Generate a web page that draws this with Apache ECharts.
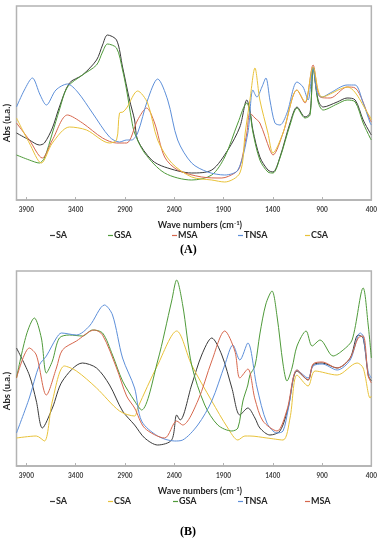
<!DOCTYPE html>
<html><head><meta charset="utf-8">
<script src="https://cdn.jsdelivr.net/npm/echarts@6/dist/echarts.min.js"></script>
<style>html,body{margin:0;padding:0;background:#fff}#c{width:380px;height:550px}</style>
</head><body><div id="c"></div>
<script>
// Wave-number tick settings
const xMin = 400, xMax = 4000, xStep = 500;
const seriesNamesA = ['SA','GSA','MSA','TNSA','CSA'];
const seriesNamesB = ['SA','CSA','GSA','TNSA','MSA'];
const colors = {SA:'#3a3a3a', GSA:'#4f9a3a', MSA:'#d6674d', TNSA:'#5d8fd9', CSA:'#e8c23a'};

// Panel A: [wavenumber, absorbance (a.u.)]
const A_TNSA = [[4000,93],[3920,110],[3839,122],[3760,105],[3697,95],[3600,110],[3483,116],[3380,108],[3229,87],[3056,63],[2955,58],[2883,60],[2832,60],[2771,67],[2670,100],[2568,121],[2466,100],[2365,60],[2223,37],[2060,28],[1887,25],[1754,30],[1653,67],[1602,110],[1561,103],[1510,113],[1470,122],[1429,100],[1378,77],[1327,75],[1256,87],[1154,118],[1093,113],[1042,100],[991,133],[950,107],[899,103],[818,107],[646,115],[564,115],[483,97],[412,77],[400,75]];
const A_SA = [[4000,67],[3870,60],[3768,55],[3717,57],[3636,72],[3565,93],[3463,117],[3331,125],[3188,140],[3127,155],[3077,165],[2985,160],[2924,133],[2853,100],[2802,80],[2771,60],[2629,40],[2497,33],[2223,27],[2019,30],[1856,50],[1734,73],[1663,100],[1632,90],[1602,70],[1531,43],[1449,30],[1398,28],[1327,43],[1225,77],[1154,93],[1073,83],[1022,87],[991,133],[940,100],[889,93],[747,98],[646,102],[564,100],[483,80],[412,67],[400,65]];
const A_GSA = [[4000,45],[3870,40],[3768,37],[3717,42],[3636,67],[3565,90],[3483,113],[3331,125],[3188,135],[3127,148],[3077,156],[2985,152],[2924,130],[2883,110],[2832,80],[2802,67],[2700,47],[2497,27],[2223,20],[2019,25],[1887,43],[1754,77],[1663,97],[1632,88],[1602,68],[1531,40],[1449,28],[1398,27],[1327,42],[1225,75],[1154,92],[1073,82],[1022,85],[991,132],[940,98],[889,90],[747,96],[646,100],[564,98],[483,77],[412,62],[400,60]];
const A_MSA = [[4000,77],[3870,60],[3738,42],[3636,60],[3483,85],[3331,77],[3127,62],[2985,57],[2883,57],[2771,80],[2680,92],[2599,77],[2497,43],[2365,30],[2121,23],[1917,22],[1785,27],[1734,33],[1663,67],[1632,87],[1581,82],[1531,77],[1429,50],[1398,45],[1296,67],[1154,110],[1073,97],[991,135],[920,103],[818,102],[646,113],[564,112],[412,80],[400,78]];
const A_CSA = [[4000,82],[3870,57],[3748,37],[3636,57],[3463,73],[3290,70],[3056,57],[2985,60],[2955,87],[2920,88],[2883,92],[2771,109],[2670,97],[2568,60],[2426,37],[2223,23],[2019,20],[1887,18],[1734,27],[1680,67],[1632,100],[1581,132],[1531,100],[1449,67],[1398,47],[1296,67],[1154,110],[1073,98],[991,133],[899,103],[646,113],[412,83],[400,80]];

// Panel B
const B_SA = [[4000,118],[3870,91],[3799,65],[3738,38],[3636,58],[3534,85],[3331,103],[3188,98],[3056,81],[2924,55],[2802,41],[2700,28],[2568,21],[2426,26],[2375,51],[2340,46],[2223,81],[2121,111],[2019,128],[1917,111],[1815,78],[1734,51],[1653,58],[1581,48],[1531,38],[1429,31],[1327,35],[1245,58],[1154,95],[1042,86],[991,101],[899,103],[747,98],[615,108],[534,131],[483,128],[432,91],[400,85]];
const B_GSA = [[4000,88],[3900,131],[3819,148],[3748,128],[3697,93],[3636,105],[3565,128],[3463,131],[3331,130],[3229,136],[3127,133],[3026,111],[2924,85],[2802,65],[2731,56],[2568,105],[2426,165],[2375,186],[2314,161],[2223,101],[2090,61],[1958,41],[1815,35],[1754,38],[1703,65],[1653,81],[1632,91],[1581,100],[1531,132],[1470,162],[1408,175],[1357,150],[1296,102],[1256,85],[1205,98],[1154,120],[1062,135],[1001,120],[920,126],[788,110],[686,116],[595,126],[483,178],[432,141],[400,108]];
const B_CSA = [[4000,28],[3799,30],[3717,25],[3636,65],[3514,100],[3392,95],[3188,78],[2955,55],[2802,50],[2771,58],[2568,101],[2375,135],[2223,101],[2019,65],[1856,38],[1754,26],[1683,30],[1632,30],[1459,28],[1296,26],[1225,48],[1154,91],[1042,80],[971,95],[747,91],[544,103],[483,98],[412,68],[400,70]];
const B_TNSA = [[4000,33],[3870,68],[3768,101],[3697,110],[3595,128],[3544,133],[3392,131],[3260,140],[3107,161],[3026,151],[2924,108],[2802,78],[2731,45],[2568,30],[2395,25],[2314,26],[2161,41],[2019,65],[1887,101],[1805,121],[1734,106],[1653,123],[1561,79],[1459,43],[1357,33],[1296,35],[1245,56],[1154,96],[1042,88],[991,100],[899,102],[747,96],[615,106],[513,133],[483,130],[432,94],[400,88]];
const B_MSA = [[4000,88],[3870,118],[3799,111],[3697,71],[3595,98],[3534,116],[3392,125],[3209,136],[3127,131],[2985,98],[2883,70],[2802,58],[2700,38],[2497,28],[2375,45],[2314,41],[2161,65],[2019,105],[1887,135],[1785,115],[1734,88],[1653,97],[1581,67],[1500,45],[1357,35],[1256,56],[1154,96],[1042,86],[991,102],[899,104],[747,98],[615,108],[534,128],[483,130],[432,90],[400,83]];

const dataA = {SA:A_SA, GSA:A_GSA, MSA:A_MSA, TNSA:A_TNSA, CSA:A_CSA};
const dataB = {SA:B_SA, GSA:B_GSA, MSA:B_MSA, TNSA:B_TNSA, CSA:B_CSA};

const chart = echarts.init(document.getElementById('c'), null, {renderer:'canvas'});
const labFont = 'Lato, "Open Sans", sans-serif';
const frame = '#b3b3b3';

function xAxis(gi, gap){
  return {
    type:'value', gridIndex:gi, min:xMin, max:xMax, interval:xStep, inverse:true,
    name:'Wave numbers (cm{s|-1})', nameLocation:'middle', nameGap:gap,
    nameTextStyle:{fontFamily:labFont, fontWeight:'bold', fontSize:9, color:'#262626', padding:[0,0,0,12],
      rich:{s:{fontFamily:labFont, fontWeight:'bold', fontSize:6, color:'#262626', verticalAlign:'top', padding:[0,0,5,0]}}},
    axisLine:{show:true, lineStyle:{color:frame, width:1.5}},
    axisTick:{show:true, inside:true, length:3, lineStyle:{color:frame}},
    axisLabel:{fontFamily:labFont, fontWeight:'bold', fontSize:6.5, color:'#404040', margin:6, showMaxLabel:false,
      formatter:v=>String(v)},
    splitLine:{show:false}
  };
}
function yAxis(gi, max){
  return {type:'value', gridIndex:gi, min:0, max:max, axisLine:{show:false}, axisTick:{show:false}, axisLabel:{show:false}, splitLine:{show:false}};
}
const series = [];
seriesNamesA.forEach(n=>series.push({name:n, type:'line', xAxisIndex:0, yAxisIndex:0, data:dataA[n], showSymbol:false, smooth:0.3, lineStyle:{width:1, color:colors[n]}, itemStyle:{color:colors[n]}}));
seriesNamesB.forEach(n=>series.push({name:n, type:'line', xAxisIndex:1, yAxisIndex:1, data:dataB[n], showSymbol:false, smooth:0.3, lineStyle:{width:1, color:colors[n]}, itemStyle:{color:colors[n]}}));

const legPosA = [50,108,172,238,305];
const legPosB = [50,108,173,238,305];
const legends = [];
function mkLegend(name, left, top){
  return {data:[name], left:left, top:top, icon:'rect', itemWidth:5, itemHeight:1.2, padding:0,
    selectedMode:false, textStyle:{fontFamily:labFont, fontWeight:'bold', fontSize:9, color:'#262626', padding:[0,0,0,-4]}};
}
seriesNamesA.forEach((n,i)=>legends.push(mkLegend(n, legPosA[i], 231)));
seriesNamesB.forEach((n,i)=>legends.push(mkLegend(n, legPosB[i], 497)));

chart.setOption({
  animation:false,
  grid:[
    {left:16.5, top:6, width:355, height:194, show:true, borderColor:frame, borderWidth:1.5, containLabel:false},
    {left:16.5, top:271, width:355, height:195, show:true, borderColor:frame, borderWidth:1.5, containLabel:false}
  ],
  xAxis:[xAxis(0,20), xAxis(1,20)],
  yAxis:[yAxis(0,194), yAxis(1,195)],
  legend:legends,
  series:series,
  graphic:[
    {type:'text', left:2, top:104, rotation:Math.PI/2, style:{text:'Abs (u.a.)', font:'bold 9.5px '+labFont, fill:'#262626'}},
    {type:'text', left:2, top:372, rotation:Math.PI/2, style:{text:'Abs (u.a.)', font:'bold 9.5px '+labFont, fill:'#262626'}},
    {type:'text', left:180, top:244, style:{text:'(A)', font:'bold 12px "Liberation Serif", serif', fill:'#000'}},
    {type:'text', left:180, top:526, style:{text:'(B)', font:'bold 12px "Liberation Serif", serif', fill:'#000'}}
  ]
});
</script></body></html>
